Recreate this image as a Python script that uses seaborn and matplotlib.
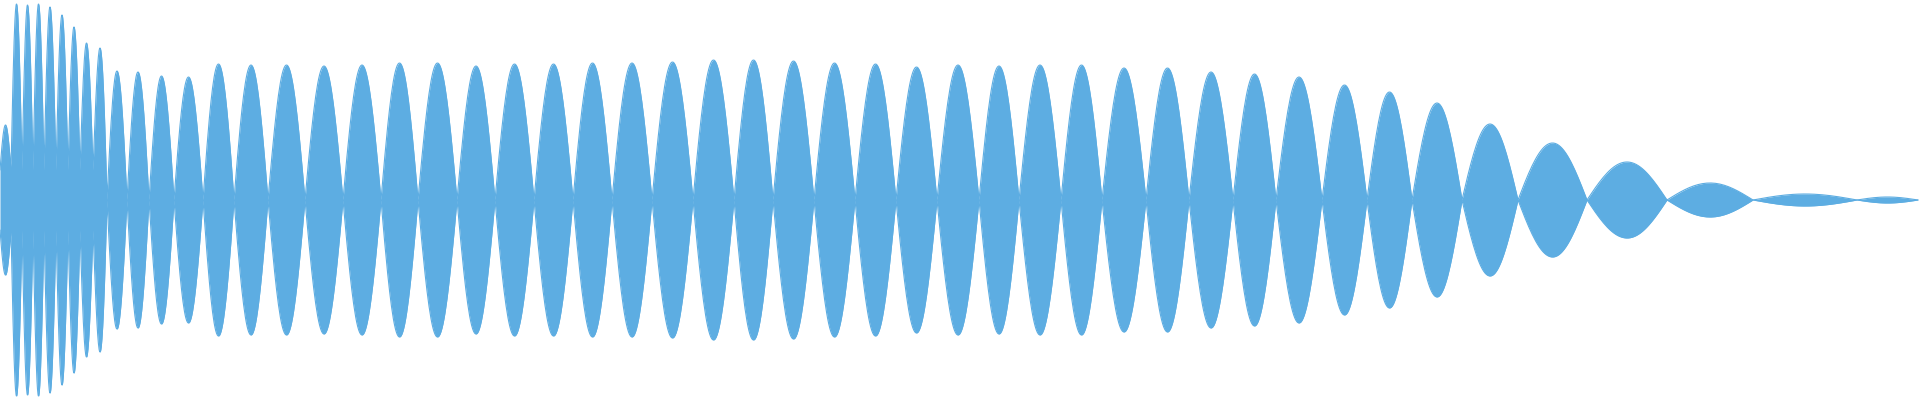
import numpy as np
import pandas as pd
import seaborn as sns
import matplotlib.pyplot as plt

# lobe boundaries (nodes) of the envelope, and the peak amplitude of each lobe
nodes = [0, 11, 22, 33, 44, 56, 68, 80, 93, 107, 127, 149, 174, 203, 234, 268,
         305, 343, 381, 418, 457, 495, 534, 573, 612, 652, 693, 734, 773, 814,
         855, 896, 937, 979, 1019, 1061, 1102, 1146, 1189, 1233, 1276, 1322,
         1367, 1412, 1462, 1518, 1587, 1667, 1753, 1857, 1918]
peaks = [75, 196, 195, 196, 193, 185, 173, 157, 152, 129, 128, 124, 123, 136,
         135, 135, 134, 135, 137, 137, 134, 136, 136, 137, 137, 138, 140, 140,
         139, 137, 136, 133, 135, 134, 135, 135, 132, 132, 128, 126, 123, 115,
         108, 97, 76, 57, 38, 17, 6, 3]
# residual amplitude at the nodes in the noisy attack part
node_floor = [30, 30, 30, 30, 30, 30, 30, 30, 30, 0]

sns.set_theme(style="white")
fig, ax = plt.subplots(figsize=(19.2, 4), dpi=100)
fig.subplots_adjust(0, 0, 1, 1)

xs, env = [], []
for i, amp in enumerate(peaks):
    a, b = nodes[i], nodes[i + 1]
    fa = node_floor[i] if i < len(node_floor) else 0
    fb = node_floor[i + 1] if i + 1 < len(node_floor) else 0
    t = np.linspace(0, 1, 40)
    base = fa + (fb - fa) * t
    xs.extend(a + (b - a) * t)
    env.extend(base + (amp - base) * np.sin(np.pi * t))

df = pd.DataFrame({"x": xs, "env": env})
color = "#5dade2"
ax.fill_between(df["x"], -df["env"], df["env"], color=color, lw=0)
sns.lineplot(data=df, x="x", y="env", ax=ax, color=color, lw=0.8)
sns.lineplot(x=df["x"], y=-df["env"], ax=ax, color=color, lw=0.8)

ax.set_xlim(0, 1920)
ax.set_ylim(-200, 200)
ax.axis("off")
fig.savefig("out.png", dpi=100, facecolor="white")
